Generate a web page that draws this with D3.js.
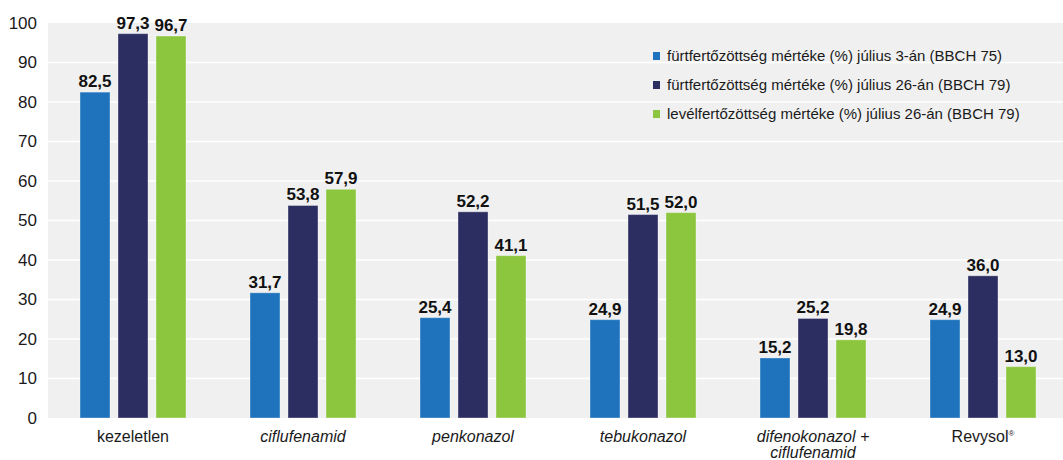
<!DOCTYPE html>
<html>
<head>
<meta charset="utf-8">
<script src="https://cdn.jsdelivr.net/npm/d3@7"></script>
<style>
  html, body { margin: 0; padding: 0; background: #ffffff; }
  svg { display: block; font-family: "Liberation Sans", Arial, Helvetica, sans-serif; }
</style>
</head>
<body>
<svg id="chart" width="1063" height="460"></svg>
<script>
// Treatments (x categories); italic names are active ingredients
const categories = ["kezeletlen", "ciflufenamid", "penkonazol", "tebukonazol", "difenokonazol +\nciflufenamid", "Revysol"];
const italicCategories = [false, true, true, true, true, false];

// Series names (legend)
const seriesNames = [
  "fürtfertőzöttség mértéke (%) július 3-án (BBCH 75)",
  "fürtfertőzöttség mértéke (%) július 26-án (BBCH 79)",
  "levélfertőzöttség mértéke (%) július 26-án (BBCH 79)"
];

// Infection rates (%) per treatment
const bunchJul3  = [82.5, 31.7, 25.4, 24.9, 15.2, 24.9];
const bunchJul26 = [97.3, 53.8, 52.2, 51.5, 25.2, 36.0];
const leafJul26  = [96.7, 57.9, 41.1, 52.0, 19.8, 13.0];

const yTicks = [0, 10, 20, 30, 40, 50, 60, 70, 80, 90, 100];

const colors = ["#1f73bc", "#2c2e62", "#8cc63f"];
const seriesValues = [bunchJul3, bunchJul26, leafJul26];

const svg = d3.select("#chart");
const plot = { left: 48, right: 1068, top: 23, bottom: 418 };

const x0 = d3.scaleBand().domain(categories).range([plot.left, plot.right]).padding(0);
const x1 = d3.scaleBand().domain(d3.range(seriesNames.length))
  .range([32, 138]).paddingInner(0.2105).paddingOuter(0);
const y = d3.scaleLinear().domain([0, 100]).range([plot.bottom, plot.top]);

// plot background
svg.append("rect")
  .attr("x", plot.left).attr("y", plot.top)
  .attr("width", plot.right - plot.left).attr("height", plot.bottom - plot.top)
  .attr("fill", "#f0f0f0");

// horizontal gridlines
svg.append("g").selectAll("line")
  .data(yTicks.filter(t => t > 0 && t < 100))
  .join("line")
  .attr("x1", plot.left).attr("x2", plot.right)
  .attr("y1", d => y(d)).attr("y2", d => y(d))
  .attr("stroke", "#ffffff").attr("stroke-width", 1.6);

// y axis labels
const yAxis = d3.axisLeft(y).tickValues(yTicks).tickSize(0).tickPadding(0).tickFormat(d3.format("d"));
const gy = svg.append("g").attr("transform", "translate(37,0)").call(yAxis);
gy.select(".domain").remove();
gy.selectAll("text")
  .attr("font-family", "'Liberation Sans', Arial, sans-serif")
  .attr("font-size", 17).attr("fill", "#1a1a1a");

// bars
const groups = svg.append("g").selectAll("g")
  .data(categories)
  .join("g")
  .attr("transform", d => `translate(${x0(d)},0)`);

const fmt = v => d3.format(".1f")(v).replace(".", ",");

groups.selectAll("rect")
  .data((c, i) => seriesValues.map((s, k) => ({ k, v: s[i] })))
  .join("rect")
  .attr("x", d => x1(d.k))
  .attr("y", d => y(d.v))
  .attr("width", x1.bandwidth())
  .attr("height", d => y(0) - y(d.v))
  .attr("fill", d => colors[d.k])
  .attr("stroke", "rgba(255,255,255,0.35)")
  .attr("stroke-width", 1);

groups.selectAll("text.val")
  .data((c, i) => seriesValues.map((s, k) => ({ k, v: s[i] })))
  .join("text")
  .attr("class", "val")
  .attr("x", d => x1(d.k) + x1.bandwidth() / 2)
  .attr("y", d => y(d.v) - 5)
  .attr("text-anchor", "middle")
  .attr("font-size", 17).attr("font-weight", "bold")
  .attr("fill", "#111111")
  .text(d => fmt(d.v));

// category labels
const xl = svg.append("g").selectAll("text")
  .data(categories)
  .join("text")
  .attr("x", d => x0(d) + x0.bandwidth() / 2)
  .attr("y", 442)
  .attr("text-anchor", "middle")
  .attr("font-size", 16)
  .attr("fill", "#1a1a1a")
  .attr("font-style", (d, i) => italicCategories[i] ? "italic" : "normal");

xl.each(function(d) {
  const t = d3.select(this);
  const lines = d.split("\n");
  lines.forEach((ln, j) => {
    t.append("tspan")
      .attr("x", x0(d) + x0.bandwidth() / 2)
      .attr("dy", j === 0 ? 0 : 16)
      .text(ln);
  });
  if (d === "Revysol") {
    t.append("tspan").attr("font-size", 8).attr("dy", -6).text("®");
  }
});

// legend
const legend = svg.append("g").selectAll("g")
  .data(seriesNames)
  .join("g")
  .attr("transform", (d, i) => `translate(653,${56 + i * 29})`);
legend.append("rect")
  .attr("x", 0).attr("y", -4).attr("width", 7).attr("height", 8)
  .attr("fill", (d, i) => colors[i]);
legend.append("text")
  .attr("x", 14).attr("y", 5)
  .attr("font-size", 15).attr("fill", "#1a1a1a")
  .text(d => d);
</script>
</body>
</html>
